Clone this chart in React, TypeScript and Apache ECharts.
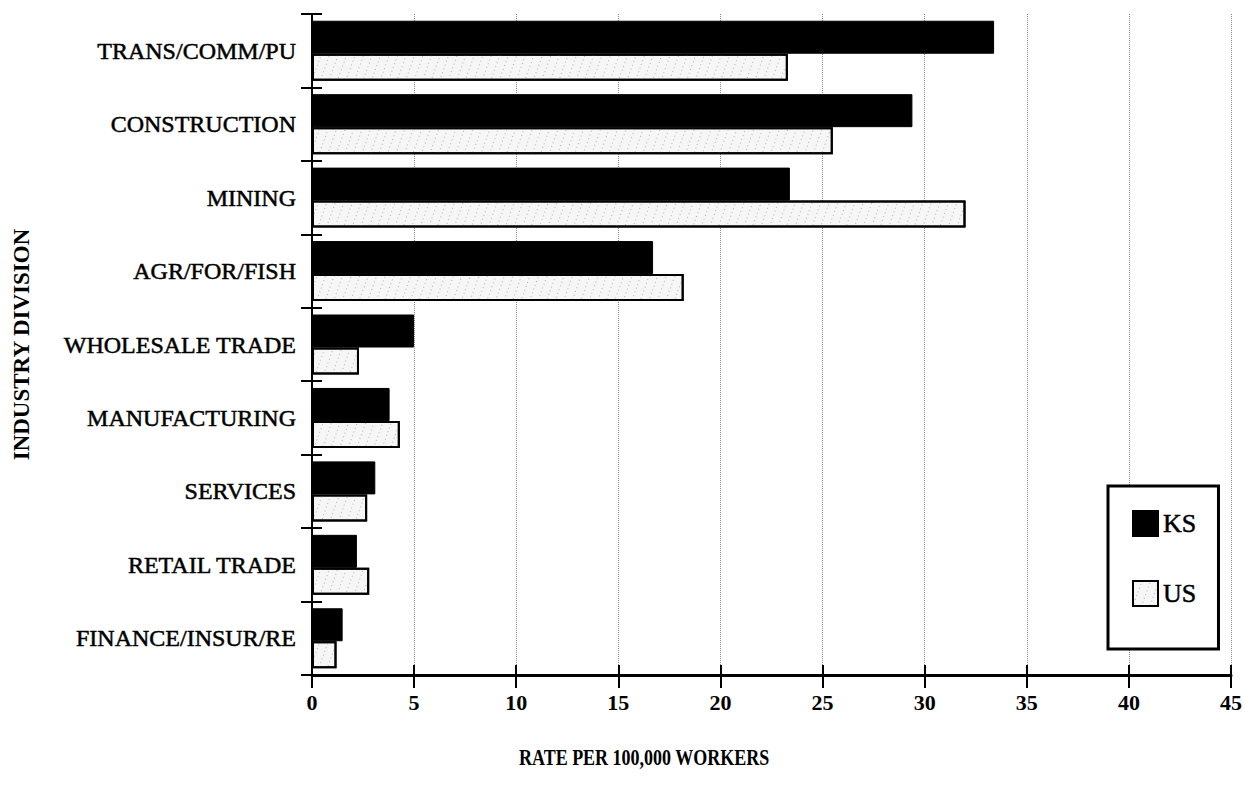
import React, { useEffect, useRef } from "react";
import * as echarts from "echarts";

const categories = [
  "TRANS/COMM/PU",
  "CONSTRUCTION",
  "MINING",
  "AGR/FOR/FISH",
  "WHOLESALE TRADE",
  "MANUFACTURING",
  "SERVICES",
  "RETAIL TRADE",
  "FINANCE/INSUR/RE",
];
const ksValues = [33.4, 29.4, 23.4, 16.7, 5.0, 3.8, 3.1, 2.2, 1.5];
const usValues = [23.3, 25.5, 32.0, 18.2, 2.3, 4.3, 2.7, 2.8, 1.2];
const xMin = 0;
const xMax = 45;
const xStep = 5;

const FONT = "'Liberation Serif', 'Times New Roman', serif";

export default function App() {
  const ref = useRef<HTMLDivElement>(null);
  useEffect(() => {
    if (!ref.current) return;
    const chart = echarts.init(ref.current, null, { renderer: "svg" });
    chart.setOption({
      animation: false,
      backgroundColor: "#ffffff",
      grid: { left: 312, right: 12, top: 14, bottom: 115, containLabel: false },
      legend: {
        data: ["KS", "US"],
        orient: "vertical",
        left: 1108,
        top: 486,
        itemWidth: 25,
        itemHeight: 25,
        itemGap: 43,
        padding: [24, 22, 42, 24],
        borderColor: "#000",
        borderWidth: 3,
        backgroundColor: "#fff",
        icon: "rect",
        textStyle: {
          fontFamily: FONT,
          fontSize: 26,
          color: "#000",
          textBorderColor: "#000",
          textBorderWidth: 0.5,
        },
      },
      xAxis: [
        {
          type: "value",
          min: xMin,
          max: xMax,
          interval: xStep,
          axisLine: { show: true, lineStyle: { color: "#000", width: 3 } },
          axisTick: { show: true, length: 13, lineStyle: { color: "#000", width: 2 } },
          axisLabel: {
            margin: 16,
            fontFamily: FONT,
            fontSize: 22,
            fontWeight: "bold",
            color: "#000",
          },
          splitLine: {
            show: true,
            lineStyle: { color: "#888", type: "dotted", width: 1 },
          },
        },
        {
          type: "value",
          min: xMin,
          max: xMax,
          interval: xStep,
          position: "bottom",
          axisLine: { show: false },
          axisTick: { show: true, inside: true, length: 10, lineStyle: { color: "#000", width: 2 } },
          axisLabel: { show: false },
          splitLine: { show: false },
        },
      ],
      yAxis: [
        {
          type: "category",
          data: categories,
          inverse: true,
          axisLine: { show: true, lineStyle: { color: "#000", width: 2 } },
          axisTick: { show: true, length: 11, interval: 0, lineStyle: { color: "#000", width: 2 } },
          axisLabel: {
            margin: 16,
            interval: 0,
            fontFamily: FONT,
            fontSize: 24,
            color: "#000",
            textBorderColor: "#000",
            textBorderWidth: 0.5,
          },
          name: "INDUSTRY DIVISION",
          nameLocation: "middle",
          nameGap: 279,
          nameTextStyle: {
            fontFamily: FONT,
            fontSize: 23,
            fontWeight: "bold",
            color: "#000",
          },
        },
        {
          type: "category",
          data: categories,
          inverse: true,
          position: "left",
          axisLine: { show: false },
          axisTick: { show: true, inside: true, length: 10, interval: 0, lineStyle: { color: "#000", width: 2 } },
          axisLabel: { show: false },
          splitLine: { show: false },
        },
      ],
      graphic: [
        {
          type: "text",
          left: 519,
          top: 745,
          style: {
            text: "RATE PER 100,000 WORKERS",
            fontFamily: FONT,
            fontSize: 18,
            fontWeight: "bold",
            fill: "#000",
          },
          scaleY: 1.3,
        },
      ],
      series: [
        {
          name: "KS",
          type: "bar",
          xAxisIndex: 0,
          yAxisIndex: 0,
          data: ksValues,
          barWidth: 33,
          barGap: "0%",
          itemStyle: { color: "#000", borderColor: "#000", borderWidth: 1 },
        },
        {
          name: "US",
          type: "bar",
          xAxisIndex: 0,
          yAxisIndex: 0,
          data: usValues,
          barWidth: 27,
          barGap: "0%",
          itemStyle: {
            color: "#f6f6f6",
            borderColor: "#000",
            borderWidth: 2,
            decal: {
              symbol: "rect",
              symbolSize: 1,
              color: "#b0b0b0",
              dashArrayX: [1, 7],
              dashArrayY: [1, 3],
              rotation: 0.35,
            },
          },
        },
      ],
    });
    return () => chart.dispose();
  }, []);
  return (
    <div
      ref={ref}
      style={{ position: "fixed", left: 0, top: 0, width: 1245, height: 790, background: "#fff" }}
    />
  );
}
